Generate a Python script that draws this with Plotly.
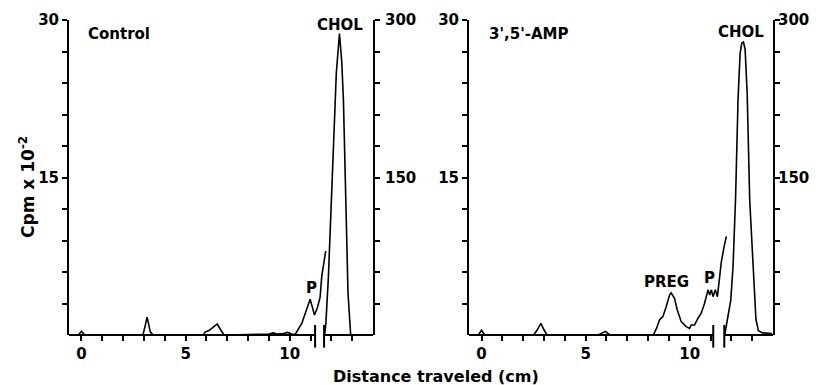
import plotly.graph_objects as go

# ---------------- data ----------------
# Control panel, left scale (Cpm x 10^-2)
ctrl_x = [-0.15, 0.0, 0.15, 2.95, 3.05, 3.15, 3.25, 3.3, 3.45, 5.85, 5.95, 6.1, 6.3, 6.52, 6.68, 6.85,
          8.0, 9.0, 9.2, 9.4, 9.7, 9.9, 10.1, 10.26, 10.58, 10.82, 10.98, 11.08, 11.19, 11.33, 11.46, 11.54, 11.73]
ctrl_y = [0.0, 0.35, 0.0, 0.0, 0.8, 1.7, 0.8, 0.3, 0.0, 0.0, 0.3, 0.4, 0.7, 1.05, 0.5, 0.0,
          0.05, 0.1, 0.2, 0.1, 0.15, 0.25, 0.1, 0.05, 1.1, 2.4, 3.4, 2.7, 1.9, 2.6, 3.6, 5.6, 8.0]
# Control panel, CHOL peak on right scale
ctrl_chol_x = [11.68, 11.74, 11.86, 11.99, 12.12, 12.24, 12.39, 12.5, 12.58, 12.7, 12.8, 12.93]
ctrl_chol_y = [0, 12, 56, 122, 190, 250, 287, 260, 224, 122, 40, 0]

# 3',5'-AMP panel, left scale
amp_x = [-0.15, 0.0, 0.15, 2.5, 2.65, 2.85, 3.0, 3.15, 5.6, 5.8, 5.95, 6.1, 6.2,
         8.25, 8.4, 8.55, 8.71, 8.87, 9.03, 9.11, 9.27, 9.4, 9.59, 9.83, 9.99, 10.07, 10.23,
         10.4, 10.55, 10.71, 10.83, 10.88, 10.96, 11.04, 11.12, 11.23, 11.33, 11.44, 11.52, 11.65, 11.76]
amp_y = [0.0, 0.45, 0.0, 0.0, 0.4, 1.1, 0.5, 0.0, 0.0, 0.2, 0.35, 0.1, 0.0,
         0.0, 0.6, 1.43, 1.75, 2.7, 3.8, 4.0, 3.5, 2.4, 1.27, 0.8, 0.63, 0.95, 0.95,
         1.6, 2.07, 3.0, 3.97, 4.3, 3.8, 4.3, 3.65, 4.3, 3.65, 5.55, 7.0, 8.4, 9.4]
# 3',5'-AMP panel, CHOL peak on right scale
amp_chol_x = [11.68, 11.76, 11.87, 11.97, 12.08, 12.2, 12.32, 12.42, 12.5, 12.58, 12.66, 12.76,
              12.88, 13.04, 13.18, 13.3, 13.5, 13.95]
amp_chol_y = [0, 9, 21, 33, 65, 129, 224, 268, 278, 279, 272, 230, 129, 65, 15, 4, 2, 1.5]

# axes / ticks
x_range = [-0.6, 14.0]
x_ticks = list(range(0, 14))
x_ticklabels = ["0" if v == 0 else "5" if v == 5 else "10" if v == 10 else " " for v in x_ticks]
yl_ticks = [3, 6, 9, 12, 15, 18, 21, 24, 27, 30]
yl_labels = [" ", " ", " ", " ", "15", " ", " ", " ", " ", "30"]
yr_ticks = [30, 60, 90, 120, 150, 180, 210, 240, 270, 300]
yr_labels = [" ", " ", " ", " ", "150", " ", " ", " ", " ", "300"]

# axis breaks (cm)
ctrl_breaks = [11.22, 11.65]
amp_breaks = [11.13, 11.66]

# text labels
ctrl_labels = [("Control", 0.24, 28.7, "left"), ("CHOL", 12.42, 29.5, "center"), ("P", 11.06, 4.5, "center")]
amp_labels = [("3',5'-AMP", 0.24, 28.7, "left"), ("CHOL", 12.47, 28.9, "center"),
              ("PREG", 8.9, 5.05, "center"), ("P", 10.97, 5.4, "center")]

# ---------------- figure ----------------
FONT = "DejaVu Sans"
INK = "black"
fig = go.Figure()

line_style = dict(color=INK, width=1.6)
fig.add_trace(go.Scatter(x=ctrl_x, y=ctrl_y, mode="lines", line=line_style, xaxis="x", yaxis="y"))
fig.add_trace(go.Scatter(x=ctrl_chol_x, y=ctrl_chol_y, mode="lines", line=line_style, xaxis="x", yaxis="y2"))
fig.add_trace(go.Scatter(x=amp_x, y=amp_y, mode="lines", line=line_style, xaxis="x2", yaxis="y3"))
fig.add_trace(go.Scatter(x=amp_chol_x, y=amp_chol_y, mode="lines", line=line_style, xaxis="x2", yaxis="y4"))

tickfont = dict(family=FONT, size=15, color=INK, weight="bold")
xcommon = dict(range=x_range, tickmode="array", tickvals=x_ticks, ticktext=x_ticklabels,
               ticks="outside", ticklen=5, tickwidth=1.6, tickcolor=INK, showline=False,
               showgrid=False, zeroline=False, tickfont=tickfont, automargin=False)
ylcommon = dict(range=[0, 30], tickmode="array", tickvals=yl_ticks, ticktext=yl_labels,
                ticks="outside", ticklen=5, tickwidth=2, tickcolor=INK, showline=True,
                linecolor=INK, linewidth=2, showgrid=False, zeroline=False, tickfont=tickfont,
                automargin=False)
yrcommon = dict(range=[0, 300], tickmode="array", tickvals=yr_ticks, ticktext=yr_labels,
                ticks="outside", ticklen=5, tickwidth=2, tickcolor=INK, showline=True,
                linecolor=INK, linewidth=2, showgrid=False, zeroline=False, tickfont=tickfont,
                side="right", automargin=False)

# the page body adds an 8px offset, so the figure is sized to the visible area
fig.update_layout(
    width=813, height=377,
    margin=dict(l=61, r=48, t=12, b=50),
    paper_bgcolor="white", plot_bgcolor="white",
    showlegend=False,
    font=dict(family=FONT, color=INK),
    xaxis=dict(domain=[0, 0.4318], anchor="y", **xcommon),
    xaxis2=dict(domain=[0.5682, 1.0], anchor="y3", **xcommon),
    yaxis=dict(anchor="x", **ylcommon),
    yaxis2=dict(anchor="x", overlaying="y", ticklabelstandoff=2, **yrcommon),
    yaxis3=dict(anchor="x2", **ylcommon),
    yaxis4=dict(anchor="x2", overlaying="y3", ticklabelstandoff=-5, **yrcommon),
)

shapes = []
for xr, brk in (("x", ctrl_breaks), ("x2", amp_breaks)):
    # baseline split by the axis break
    shapes.append(dict(type="line", xref=xr, yref="paper", x0=x_range[0], x1=brk[0], y0=0, y1=0,
                       line=dict(color=INK, width=2)))
    shapes.append(dict(type="line", xref=xr, yref="paper", x0=brk[1], x1=x_range[1], y0=0, y1=0,
                       line=dict(color=INK, width=2)))
    for b in brk:
        shapes.append(dict(type="line", xref=xr, yref="paper", x0=b, x1=b, y0=0.032, y1=-0.04,
                           line=dict(color=INK, width=2)))
fig.update_layout(shapes=shapes)

annotations = []
lab_font = dict(family=FONT, size=15, color=INK, weight="bold")
for labels, xr, yr in ((ctrl_labels, "x", "y"), (amp_labels, "x2", "y3")):
    for txt, xv, yv, anc in labels:
        annotations.append(dict(text=txt, x=xv, y=yv, xref=xr, yref=yr, xanchor=anc, yanchor="middle",
                                showarrow=False, font=lab_font))
annotations.append(dict(text="Distance traveled (cm)", x=0.522, y=-0.133, xref="paper", yref="paper",
                        xanchor="center", yanchor="middle", showarrow=False,
                        font=dict(family=FONT, size=16, color=INK, weight="bold")))
annotations.append(dict(text="Cpm x 10<sup>-2</sup>", x=-0.0597, y=0.47, xref="paper", yref="paper",
                        xanchor="center", yanchor="middle", textangle=-90, showarrow=False,
                        font=dict(family=FONT, size=17, color=INK, weight="bold")))
fig.update_layout(annotations=annotations)

fig.write_html("out.html")
